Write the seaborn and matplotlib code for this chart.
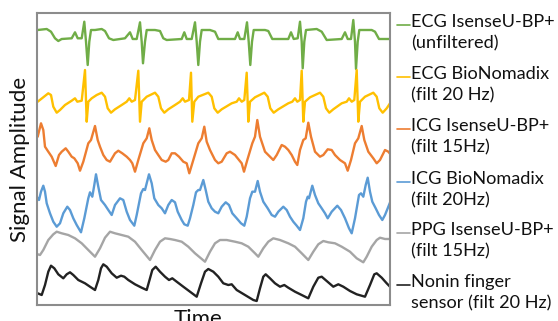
import matplotlib
matplotlib.use("Agg")
import matplotlib.pyplot as plt
from matplotlib.lines import Line2D
import seaborn as sns
import pandas as pd

# ---- data (arbitrary time units / amplitude units) ----
ecg_isense_t = [2.7, 11.7, 16, 20, 23.3, 26.7, 36.7, 40, 42.7, 46.7, 49.3, 51, 52.7, 54.3, 56, 60, 66.7, 70, 74, 78.3,
                90, 95, 97.7, 101.7, 105, 106.7, 108, 110, 111.7, 120, 125, 128.3, 131.7, 146.7, 149.3, 151.7, 156.7,
                160, 161.7, 163.3, 165, 166.7, 175, 180, 183.3, 200, 202.7, 205, 209.3, 212, 213.7, 215.3, 217, 218.7,
                230, 233.3, 237.3, 253.3, 256, 258.7, 262.7, 265, 266.7, 267.7, 269.3, 271, 281.7, 286.7, 291.7, 306.7,
                310, 312.7, 316, 318.3, 320, 321, 322.7, 324.3, 336.7, 340, 344, 348.3, 355]
ecg_isense_v = [275, 276, 273.3, 266.7, 264, 266, 266.7, 272.7, 266.7, 266.7, 283.3, 263.3, 240, 263.3, 275, 275, 276,
                274, 266.7, 265, 266.7, 272.7, 266, 266, 282.7, 263.3, 241.7, 263.3, 275, 275, 274, 266.7, 265, 266,
                272.7, 266, 266, 282.7, 263.3, 240, 263.3, 275, 275, 273.3, 266, 266, 272.7, 266, 266, 282.7, 263.3,
                240, 263.3, 275, 275, 274, 266, 266, 272.7, 266, 266.7, 283.3, 263.3, 236.7, 263.3, 275, 276, 273.3,
                265, 266, 272.7, 266, 266, 285, 263.3, 236, 263.3, 275, 275, 273.3, 266, 266, 266]

ecg_bio_t = [2.7, 13.3, 16, 18.3, 21.7, 25, 30, 36.7, 40, 42.3, 46.7, 50, 51.7, 53.3, 56.7, 61.7, 66.7, 70, 72.7, 76,
             80, 86.7, 91.7, 94.3, 96.7, 100, 103.3, 105, 106.7, 111.7, 120, 123.3, 126, 129.3, 133.3, 140, 145, 147.7,
             150, 154, 156, 157.3, 159.3, 163.3, 173.3, 176.7, 179.3, 182.7, 186.7, 196.7, 201.7, 204, 206.7, 209.3,
             211.7, 213.3, 215, 220, 229.3, 232.7, 235.3, 238.7, 243.3, 253.3, 257.3, 260, 262.3, 265, 266.7, 268.3,
             270, 275, 285, 288.3, 291, 294.3, 298.3, 306.7, 311.7, 314, 316.7, 319.3, 321.7, 323.3, 325, 330, 338.3,
             341.7, 344.3, 347.7, 351.7, 355]
ecg_bio_v = [203.3, 211.7, 210, 198.3, 192.3, 195, 200, 204.3, 206.7, 203.3, 204.3, 235, 183.3, 203.3, 206.7, 210,
             212.3, 208.3, 196.7, 192.3, 195.7, 200, 203.3, 206.7, 203.3, 205, 234.3, 183.3, 203.3, 208.3, 212.3,
             208.3, 196.7, 192.3, 195.7, 200, 203.3, 206.7, 203.3, 205, 232.3, 183.3, 203.3, 208.3, 212.3, 208.3,
             196.7, 192.3, 195.7, 201.7, 203.3, 206.7, 203.3, 205, 232.3, 183.3, 203.3, 207.7, 212.3, 208.3, 196.7,
             192.3, 195.7, 201.7, 203.3, 206.7, 203.3, 205, 234.3, 183.3, 203.3, 207.7, 212.3, 208.3, 196.7, 192.3,
             195.7, 201.7, 203.3, 206.7, 203.3, 205, 235, 183.3, 203.3, 208.3, 212.3, 208.3, 196.7, 192.3, 196.7,
             201.7]

icg_isense_t = [2.7, 6, 8.3, 10, 13.3, 16.7, 20.7, 24, 26.7, 30.7, 33.3, 36.7, 39.3, 42.7, 45, 48.3, 53.3, 56, 60,
                62.7, 65, 68.3, 71.7, 75, 80, 83.3, 87.3, 91.7, 95, 97.3, 100, 103.3, 108.3, 111.7, 114.3, 116.7, 120,
                123.3, 126.7, 130.7, 133.3, 136.7, 140, 144, 148.3, 151.7, 154.3, 158.3, 163.3, 166.7, 169.3, 171.7,
                175, 180, 183.3, 186.7, 191.7, 195, 200, 204, 206.7, 209, 212.3, 217.3, 220, 222.3, 225, 230, 235,
                238.3, 241.7, 246.7, 250, 253.3, 256.7, 260, 262.3, 265, 268.3, 270.7, 273.3, 276, 280, 285, 288.3,
                292.7, 296.7, 300, 305, 310, 312.7, 316, 320, 323.3, 326.7, 329.3, 333.3, 338.3, 341.7, 345, 350,
                353.3, 356]
icg_isense_v = [168.3, 181.7, 175, 158.3, 153.3, 148.3, 139, 150, 153.3, 156.7, 153.3, 148.3, 146.7, 141.7, 134.3,
                143.3, 161.7, 165, 179, 165, 158.3, 150, 145, 143.3, 151.7, 154.3, 151.7, 148.3, 145, 141.7, 133.3,
                145, 161.7, 166.7, 176.7, 165, 155, 150, 145, 143.3, 145, 151.7, 151.7, 148.3, 143.3, 141.7, 131.7,
                145, 161.7, 166.7, 178.3, 163.3, 155, 145, 141.7, 143.3, 151.7, 153.3, 150, 145, 141.7, 133.3, 145,
                161.7, 168.3, 185, 168.3, 153.3, 148.3, 145, 150, 160, 158.3, 155, 150, 143.3, 140, 155, 165, 166.7,
                182.3, 168.3, 153.3, 148.3, 150, 155.7, 155, 150, 145, 141.7, 134.3, 145, 161.7, 166.7, 179, 165,
                153.3, 146.7, 141.7, 145, 155, 153.3, 150]

icg_bio_t = [1.7, 4, 6, 8.3, 10, 11.7, 15, 18.3, 21.7, 25, 28.3, 32.3, 35, 38.3, 41.7, 46, 49.3, 53.3, 55, 57.3, 59.3,
             61, 63.3, 66, 70, 73.3, 76.7, 80, 85, 88.3, 91.7, 95, 99.3, 101.7, 106, 108.3, 110, 111.7, 114, 116.7,
             119.3, 123.3, 126.7, 130, 133.3, 136.7, 140, 142.7, 146.7, 149.3, 152.7, 155, 158.3, 161, 163.3, 165,
             168.3, 170.7, 173.3, 176.7, 180, 183.3, 186.7, 190.7, 194, 197.3, 201.7, 206, 209.3, 211.7, 215, 217.3,
             220, 222.7, 225, 228.3, 232.7, 236.7, 240, 243.3, 248.3, 251.7, 255, 258.3, 261.7, 265, 268.3, 271,
             272.7, 274, 277.3, 280, 283.3, 286.7, 290, 292.7, 296.7, 302.3, 306, 310, 314, 316.7, 320, 324, 326,
             328.3, 330.7, 332.7, 335, 337.3, 340.7, 344, 347.3, 350, 352.7, 356]
icg_bio_v = [108.3, 105, 113.3, 119.3, 113.3, 101.7, 91.7, 83.3, 78.3, 81.7, 91.7, 98.3, 95, 86.7, 80, 72.7, 86.7,
             106.7, 112.7, 108.3, 120, 130.7, 118.3, 105, 100, 95, 90, 100, 106.7, 105, 93.3, 85, 79.3, 90, 111.7,
             116, 115, 121.7, 130.7, 121.7, 106.7, 100, 96.7, 91.7, 100, 105, 102.7, 93.3, 85, 80.7, 79.3, 86.7, 100,
             112.7, 115, 115, 125, 115, 103.3, 96.7, 93.3, 91.7, 98.3, 102.7, 100, 91.7, 86.7, 81.7, 79.3, 88.3,
             106.7, 113.3, 113.3, 124, 113.3, 103.3, 96.7, 90, 88.3, 93.3, 98.3, 95, 88.3, 83.3, 79.3, 75, 86.7,
             103.3, 108.3, 106.7, 119.3, 110, 101.7, 96.7, 91.7, 86.7, 93.3, 99.3, 95, 86.7, 76.7, 71.7, 86.7, 110,
             111.7, 108.3, 120, 127.3, 113.3, 103.3, 96.7, 90, 85, 90, 96.7, 105]

ppg_t = [2.7, 5, 8.3, 13.3, 18.3, 21.7, 26.7, 33.3, 40, 46.7, 53.3, 60, 65, 70, 75, 80, 86.7, 93.3, 100, 106.7, 115,
         120, 125, 130, 135, 140, 146.7, 153.3, 160, 170, 175, 180, 185, 191.7, 200, 206.7, 213.3, 220, 223.3, 228.3,
         233.3, 238.3, 245, 253.3, 260, 266.7, 273.3, 278.3, 283.3, 288.3, 293.3, 300, 306.7, 315, 321.7, 328.3,
         331.7, 336.7, 341.7, 345, 350, 355]
ppg_v = [50.7, 50, 55, 65, 70.7, 73.3, 71.7, 70, 66.7, 61.7, 55, 48.3, 56.7, 67.3, 73.3, 71.7, 70, 68.3, 63.3, 55, 45,
         55, 63.3, 66.7, 66, 65, 63.3, 58.3, 51.7, 43.3, 53.3, 61.7, 65, 65, 63.3, 61.7, 58.3, 51.7, 48.3, 56.7, 63.3,
         66.7, 65, 61.7, 58.3, 51.7, 45, 53.3, 60.7, 64, 62.7, 61.7, 58.3, 53.3, 46.7, 42.7, 48.3, 58.3, 65, 67.3, 66,
         66]

nonin_t = [2.7, 6.7, 10, 13.3, 16, 19.3, 23.3, 28.3, 31.7, 35, 38.3, 43.3, 50, 55, 60, 63.3, 66, 68.3, 71.7, 76.7,
           81.7, 86, 89.3, 93.3, 100, 106.7, 111.7, 115, 117.3, 120.7, 125, 130, 134, 137.3, 141.7, 148.3, 155, 161.7,
           166, 170, 173.3, 178.3, 183.3, 188.3, 193.3, 196.7, 201.7, 210, 218.3, 221.7, 225, 228.3, 230.7, 235, 240,
           245, 249.3, 253.3, 260, 266.7, 273.3, 278.3, 283.3, 286.7, 291.7, 298.3, 303.3, 308.3, 315, 321.7, 330,
           335, 339.3, 341.7, 346.7, 351.7, 355]
nonin_v = [11.7, 10, 20, 33.3, 39.3, 36.7, 30.7, 26.7, 30.7, 32.7, 30, 25, 21.7, 18.3, 15, 25, 36.7, 40.7, 38.3, 31.7,
           27.3, 29.3, 28.3, 25, 20.7, 17.3, 15, 26.7, 35, 38.3, 33.3, 28.3, 25, 26.7, 23.3, 18.3, 13.3, 8.3, 21.7,
           33.3, 36, 33.3, 28.3, 21.7, 20, 20.7, 15, 10, 5, 4, 16.7, 28.3, 30.7, 26.7, 21.7, 18.3, 20, 17.3, 13.3, 10,
           6.7, 18.3, 27.3, 28.3, 24, 18.3, 20.7, 18.3, 14, 10.7, 8.3, 20, 30.7, 31.7, 27.3, 21.7, 18.3]

labels = ["ECG IsenseU-BP+\n(unfiltered)", "ECG BioNomadix\n(filt 20 Hz)", "ICG IsenseU-BP+\n(filt 15Hz)",
          "ICG BioNomadix\n(filt 20Hz)", "PPG IsenseU-BP+\n(filt 15Hz)", "Nonin finger\nsensor (filt 20 Hz)"]
colors = ["#70ad47", "#ffc000", "#ed7d31", "#5b9bd5", "#a5a5a5", "#222222"]
series = [(ecg_isense_t, ecg_isense_v), (ecg_bio_t, ecg_bio_v), (icg_isense_t, icg_isense_v),
          (icg_bio_t, icg_bio_v), (ppg_t, ppg_v), (nonin_t, nonin_v)]

# ---- figure ----
sns.set_style("white")
plt.rcParams["font.family"] = ["Lato", "DejaVu Sans"]

W, H = 558, 321
fig = plt.figure(figsize=(W / 100, H / 100), dpi=100)
ax = fig.add_axes([37 / W, 1 - 305 / H, (390 - 37) / W, (305 - 13) / H])

for (t, v), c in zip(series, colors):
    df = pd.DataFrame({"t": t, "v": v})
    sns.lineplot(data=df, x="t", y="v", color=c, lw=1.7, ax=ax, estimator=None, sort=False)

ax.set_xlim(2, 355)
ax.set_ylim(0, 292)
ax.set_xticks([])
ax.set_yticks([])
for s in ax.spines.values():
    s.set_color("#8c8c8c")
    s.set_linewidth(1.5)
ax.set_xlabel("Time", fontsize=16, color="#111111")
ax.xaxis.set_label_coords((198 - 37) / 353, -4 / 292, transform=ax.transAxes)
ax.xaxis.label.set_va("top")
ax.set_ylabel("Signal Amplitude", fontsize=16, color="#111111")
ax.yaxis.set_label_coords(-7 / 353, 0.5, transform=ax.transAxes)
ax.yaxis.label.set_va("bottom")

# legend-like labels at right
label_y = [25, 77, 129, 182, 233, 285]
for lab, c, yp in zip(labels, colors, label_y):
    fy = 1 - yp / H
    fig.add_artist(Line2D([397 / W, 410 / W], [fy, fy], color=c, lw=1.2, transform=fig.transFigure))
    fig.text(411 / W, fy + 11 / H, lab, color="#111111", fontsize=13.1, va="top", ha="left",
             linespacing=1.37, transform=fig.transFigure)

fig.savefig("out.png", dpi=100)
